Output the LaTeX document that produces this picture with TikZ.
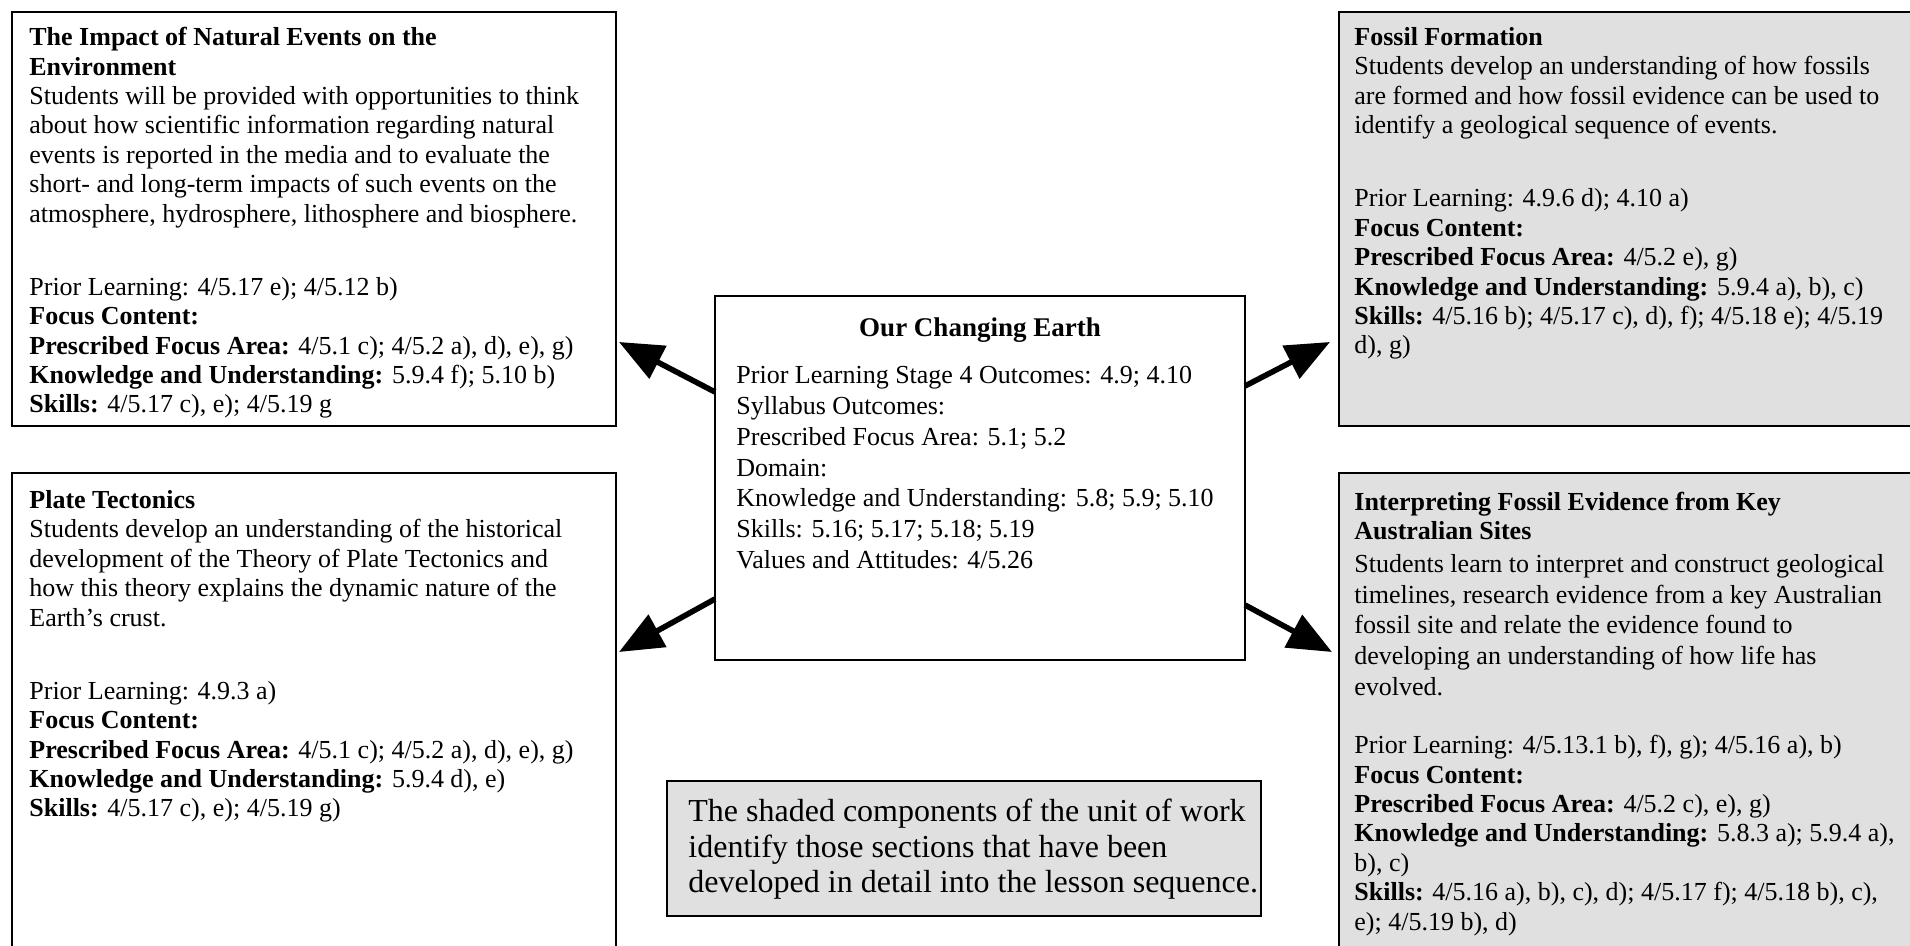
\documentclass[tikz,border=0pt]{standalone}
\usepackage{fontspec}
\setmainfont{Liberation Serif}
\usetikzlibrary{arrows.meta}
\definecolor{shade}{RGB}{224,224,224}
\begin{document}
\begin{tikzpicture}[x=0.5pt,y=-0.5pt,
  box/.style={draw=black, line width=1pt, anchor=north west, inner sep=0pt, outer sep=0pt},
  shadebox/.style={box, fill=shade},
  txt/.style={anchor=north west, align=left, inner sep=0pt, font=\fontsize{13}{14.7}\selectfont},
  ctxt/.style={anchor=north west, align=left, inner sep=0pt, font=\fontsize{13}{15.4}\selectfont},
  notetxt/.style={anchor=north west, align=left, inner sep=0pt, font=\fontsize{16}{17.7}\selectfont},
  arr/.style={line width=2.8pt, -{Triangle[length=22pt,width=18pt]}}]
\useasboundingbox (0,0) rectangle (1910,946);
\clip (0,0) rectangle (1910,946);
\fill[white] (0,0) rectangle (1910,946);

% boxes
\node[box, minimum width=302pt, minimum height=207pt] (b1) at (12,12) {};
\node[box, minimum width=302pt, minimum height=243.5pt] (b2) at (12,473) {};
\node[shadebox, minimum width=295.5pt, minimum height=207pt] (b3) at (1339,12) {};
\node[shadebox, minimum width=295.5pt, minimum height=243.5pt] (b4) at (1339,473) {};
\node[box, minimum width=265pt, minimum height=182pt] (c) at (715,296) {};
\node[shadebox, minimum width=297pt, minimum height=67.5pt] (note) at (667,781) {};

% texts
\node[txt] (t1) at (29,27) {\textbf{The Impact of Natural Events on the}\\
\textbf{Environment}\\
Students will be provided with opportunities to think\\
about how scientific information regarding natural\\
events is reported in the media and to evaluate the\\
short- and long-term impacts of such events on the\\
atmosphere, hydrosphere, lithosphere and biosphere.\\[21.9pt]
Prior Learning: 4/5.17 e); 4/5.12 b)\\
\textbf{Focus Content:}\\
\textbf{Prescribed Focus Area:} 4/5.1 c); 4/5.2 a), d), e), g)\\
\textbf{Knowledge and Understanding:} 5.9.4 f); 5.10 b)\\
\textbf{Skills:} 4/5.17 c), e); 4/5.19 g};

\node[txt] (t2) at (29,490) {\textbf{Plate Tectonics}\\
Students develop an understanding of the historical\\
development of the Theory of Plate Tectonics and\\
how this theory explains the dynamic nature of the\\
Earth’s crust.\\[21.9pt]
Prior Learning: 4.9.3 a)\\
\textbf{Focus Content:}\\
\textbf{Prescribed Focus Area:} 4/5.1 c); 4/5.2 a), d), e), g)\\
\textbf{Knowledge and Understanding:} 5.9.4 d), e)\\
\textbf{Skills:} 4/5.17 c), e); 4/5.19 g)};

\node[txt] (t3) at (1354,27) {\textbf{Fossil Formation}\\
Students develop an understanding of how fossils\\
are formed and how fossil evidence can be used to\\
identify a geological sequence of events.\\[21.9pt]
Prior Learning: 4.9.6 d); 4.10 a)\\
\textbf{Focus Content:}\\
\textbf{Prescribed Focus Area:} 4/5.2 e), g)\\
\textbf{Knowledge and Understanding:} 5.9.4 a), b), c)\\
\textbf{Skills:} 4/5.16 b); 4/5.17 c), d), f); 4/5.18 e); 4/5.19\\
d), g)};

\node[txt] (t4) at (1354,491.5) {\textbf{Interpreting Fossil Evidence from Key}\\
\textbf{Australian Sites}\\[1.8pt]
Students learn to interpret and construct geological\\[0.6pt]
timelines, research evidence from a key Australian\\[0.6pt]
fossil site and relate the evidence found to\\[0.6pt]
developing an understanding of how life has\\[0.6pt]
evolved.\\[14.6pt]
Prior Learning: 4/5.13.1 b), f), g); 4/5.16 a), b)\\
\textbf{Focus Content:}\\
\textbf{Prescribed Focus Area:} 4/5.2 c), e), g)\\
\textbf{Knowledge and Understanding:} 5.8.3 a); 5.9.4 a),\\
b), c)\\
\textbf{Skills:} 4/5.16 a), b), c), d); 4/5.17 f); 4/5.18 b), c),\\
e); 4/5.19 b), d)};

\node[anchor=north, inner sep=0pt, font=\fontsize{13.5}{15}\selectfont\bfseries] (ct) at (980,317) {Our Changing Earth};
\node[ctxt] (cb) at (736,366) {Prior Learning Stage 4 Outcomes: 4.9; 4.10\\
Syllabus Outcomes:\\
Prescribed Focus Area: 5.1; 5.2\\
Domain:\\
Knowledge and Understanding: 5.8; 5.9; 5.10\\
Skills: 5.16; 5.17; 5.18; 5.19\\
Values and Attitudes: 4/5.26};

\node[notetxt] (nt) at (688,799) {The shaded components of the unit of work\\
identify those sections that have been\\
developed in detail into the lesson sequence.};

% arrows
\coordinate (a1) at (619,342);
\coordinate (a2) at (619,652);
\coordinate (a3) at (1330,342);
\coordinate (a4) at (1332,652);
\draw[arr] ([yshift=43pt]c.west) -- (a1);
\draw[arr] ([yshift=-60.5pt]c.west) -- (a2);
\draw[arr] ([yshift=46pt]c.east) -- (a3);
\draw[arr] ([yshift=-63.5pt]c.east) -- (a4);
\end{tikzpicture}
\end{document}
